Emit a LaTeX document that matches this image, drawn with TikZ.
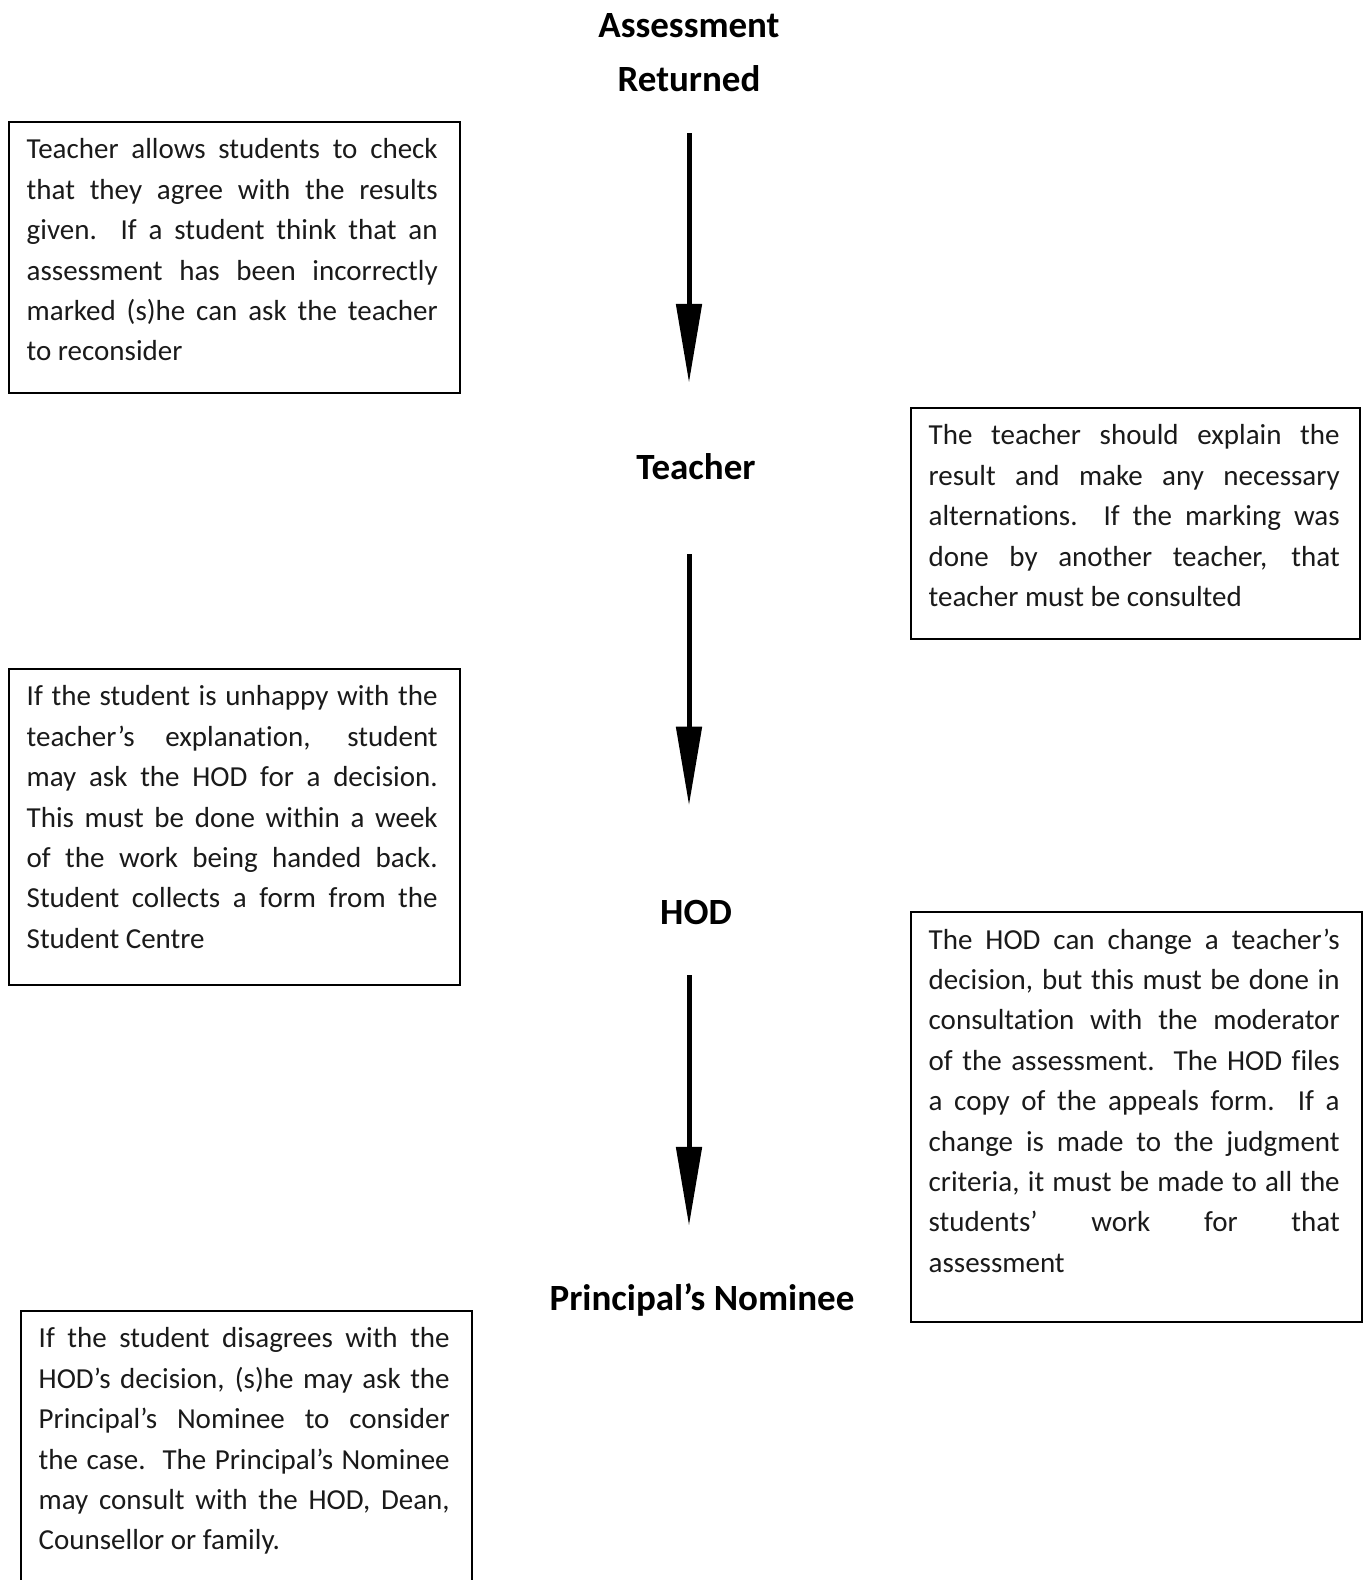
\documentclass[tikz,border=0pt]{standalone}
\usepackage{fontspec}
\setmainfont{Carlito}[Ligatures=NoCommon]
\usetikzlibrary{positioning,arrows.meta}
\definecolor{inkgray}{HTML}{1A1A1A}
\hbadness=10000

\begin{document}
\begin{tikzpicture}[x=1pt, y=-1pt,
  frame/.style={draw=black, line width=1.8pt, inner sep=0pt, anchor=north west},
  notetext/.style={inner sep=0pt, text width=411pt, align=justify, text=inkgray,
    font=\fontsize{29}{40.4}\selectfont},
  stage/.style={inner sep=0pt, anchor=base, font=\bfseries\fontsize{37}{54}\selectfont},
  flow/.style={line width=5pt, -{Triangle[length=79pt, width=25pt]}}]
\fill[white] (0,0) rectangle (1367,1580);
\useasboundingbox (0,0) rectangle (1367,1580);

% stages down the middle
\node[stage, anchor=center, align=center] (ret) at (689,53) {Assessment\\Returned};
\node[stage] (teach) at (696,479) {Teacher};
\node[stage] (hod) at (696,924) {HOD};
\node[stage] (nom) at (702,1310) {Principal’s Nominee};

% arrows between the stages
\draw[flow, shorten <=41pt, shorten >=70pt] (ret.south) -- (ret.south |- teach.north);
\draw[flow, shorten <=75pt, shorten >=94pt] (ret.south |- teach.south) -- (ret.south |- hod.north);
\draw[flow, shorten <=51pt, shorten >=57pt] (ret.south |- hod.south) -- (ret.south |- nom.north);

% note frames
\node[frame, minimum width=451pt, minimum height=271pt] (b1) at (8,121) {};
\node[frame, minimum width=449pt, minimum height=231pt] (b2) at (910,407) {};
\node[frame, minimum width=451pt, minimum height=316pt] (b3) at (8,668) {};
\node[frame, minimum width=451pt, minimum height=410pt] (b4) at (910,911) {};
\node[frame, minimum width=451pt, minimum height=320pt] (b5) at (20,1310) {};

% note texts
\node[notetext, below right=17.5pt and 18.5pt of b1.north west] (t1) {Teacher allows students to check\linebreak
that they agree with the results\linebreak
given.\ \ If a student think that an\linebreak
assessment has been incorrectly\linebreak
marked (s)he can ask the teacher\linebreak
to reconsider};
\node[notetext, below right=17.5pt and 18.5pt of b2.north west] (t2) {The teacher should explain the\linebreak
result and make any necessary\linebreak
alternations.\ \ If the marking was\linebreak
done by another teacher, that\linebreak
teacher must be consulted};
\node[notetext, below right=17.5pt and 18.5pt of b3.north west] (t3) {If the student is unhappy with the\linebreak
teacher’s explanation, student\linebreak
may ask the HOD for a decision.\linebreak
This must be done within a week\linebreak
of the work being handed back.\linebreak
Student collects a form from the\linebreak
Student Centre};
\node[notetext, below right=17.5pt and 18.5pt of b4.north west] (t4) {The HOD can change a teacher’s\linebreak
decision, but this must be done in\linebreak
consultation with the moderator\linebreak
of the assessment.\ \ The HOD files\linebreak
a copy of the appeals form.\ \ If a\linebreak
change is made to the judgment\linebreak
criteria, it must be made to all the\linebreak
students’ work for that\linebreak
assessment};
\node[notetext, below right=17.5pt and 18.5pt of b5.north west] (t5) {If the student disagrees with the\linebreak
HOD’s decision, (s)he may ask the\linebreak
Principal’s Nominee to consider\linebreak
the case.\ \ The Principal’s Nominee\linebreak
may consult with the HOD, Dean,\linebreak
Counsellor or family.};
\end{tikzpicture}
\end{document}
